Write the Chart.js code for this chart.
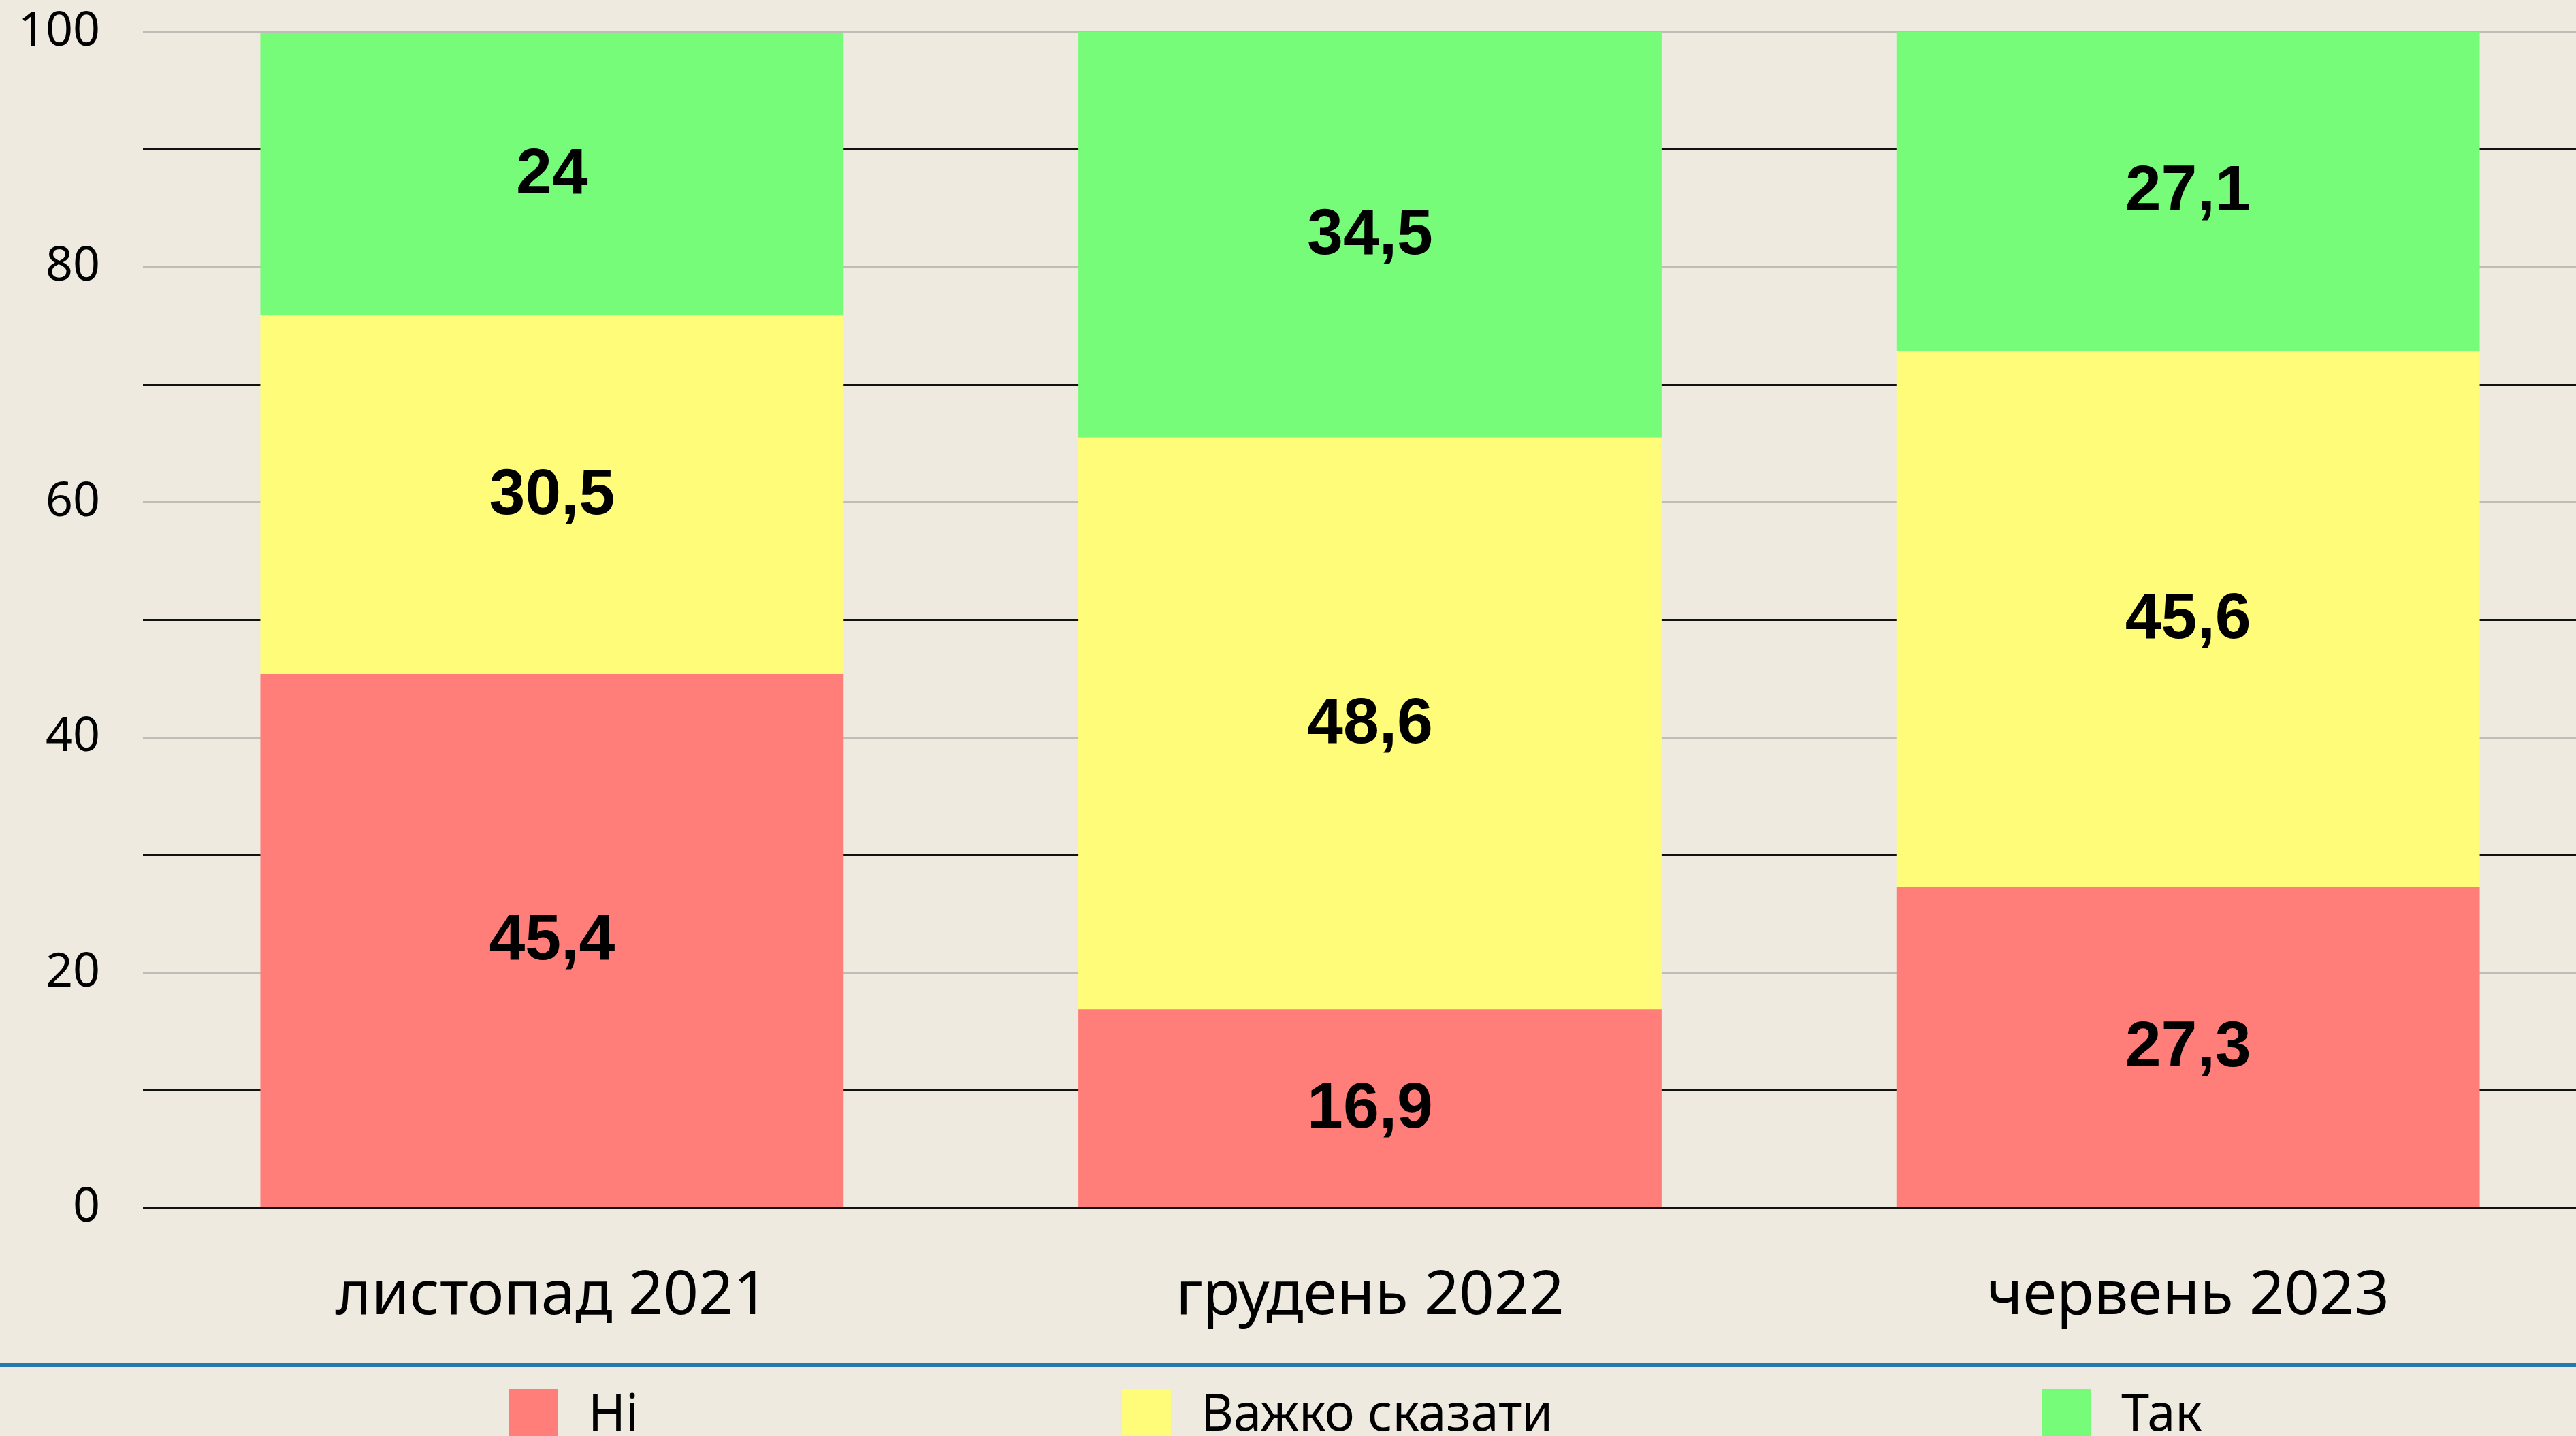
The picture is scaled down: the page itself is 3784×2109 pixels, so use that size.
<!DOCTYPE html>
<html>
<head>
<meta charset="utf-8">
<script src="https://cdn.jsdelivr.net/npm/chart.js@4.4.1/dist/chart.umd.min.js"></script>
<style>
  html, body { margin: 0; padding: 0; background: #EEEAE0; overflow: hidden; }
  #wrap { position: relative; width: 3815px; height: 2109px; }
</style>
</head>
<body>
<div id="wrap"><canvas id="myChart" width="3815" height="2109"></canvas></div>
<script>
// Kategorier og verdier (prosent)
const kategorier = ['листопад 2021', 'грудень 2022', 'червень 2023'];
const serier = ['Ні', 'Важко сказати', 'Так'];
const ni = [45.4, 16.9, 27.3];
const vazhko = [30.5, 48.6, 45.6];
const tak = [24, 34.5, 27.1];
const yTicks = [0, 20, 40, 60, 80, 100];

const farger = ['#FF7E79', '#FFFC79', '#77FC7A'];

// Tall med komma som desimaltegn
function formater(v) {
  return String(v).replace('.', ',');
}

// Verdier midt i hver stolpe
const verdiEtiketter = {
  id: 'verdiEtiketter',
  afterDatasetsDraw(chart) {
    const ctx = chart.ctx;
    ctx.save();
    ctx.font = 'bold 95px "Liberation Sans", Arial, sans-serif';
    ctx.fillStyle = '#000';
    ctx.textAlign = 'center';
    ctx.textBaseline = 'middle';
    chart.data.datasets.forEach((ds, i) => {
      chart.getDatasetMeta(i).data.forEach((bar, j) => {
        const p = bar.getProps(['x', 'y', 'base'], true);
        ctx.fillText(formater(ds.data[j]), p.x, (p.y + p.base) / 2 + 2);
      });
    });
    ctx.restore();
  }
};

// Blå linje og forklaring nederst
const forklaring = {
  id: 'forklaring',
  afterDraw(chart) {
    const ctx = chart.ctx;
    const h = chart.height;
    const startX = [748, 1648, 3000];
    ctx.save();
    ctx.fillStyle = '#2878B0';
    ctx.fillRect(0, h - 107, chart.width, 5);
    ctx.font = '74px "Noto Sans", sans-serif';
    ctx.textBaseline = 'alphabetic';
    ctx.textAlign = 'left';
    chart.data.datasets.forEach((ds, i) => {
      ctx.fillStyle = ds.backgroundColor;
      ctx.fillRect(startX[i], h - 69, 72, 80);
      ctx.fillStyle = '#000';
      ctx.fillText(ds.label, startX[i] + 116, h - 8);
    });
    ctx.restore();
  }
};

const ctx = document.getElementById('myChart').getContext('2d');
new Chart(ctx, {
  type: 'bar',
  data: {
    labels: kategorier,
    datasets: [
      { label: serier[0], data: ni, backgroundColor: farger[0] },
      { label: serier[1], data: vazhko, backgroundColor: farger[1] },
      { label: serier[2], data: tak, backgroundColor: farger[2] }
    ]
  },
  options: {
    responsive: false,
    animation: false,
    devicePixelRatio: 1,
    layout: {
      padding: { top: 47, bottom: 83, left: 0, right: 0 }
    },
    datasets: {
      bar: { categoryPercentage: 1, barPercentage: 0.713, borderWidth: 0 }
    },
    plugins: {
      legend: { display: false },
      tooltip: { enabled: false }
    },
    scales: {
      x: {
        stacked: true,
        grid: { display: false },
        border: { display: false },
        ticks: {
          color: '#000',
          padding: 68,
          font: { family: '"Noto Sans", sans-serif', size: 90 }
        }
      },
      y: {
        stacked: true,
        min: 0,
        max: 100,
        afterFit(scale) {
          scale.width = 210;
          scale.paddingTop = 0;
          scale.paddingBottom = 0;
        },
        afterBuildTicks(scale) {
          // hver tiende for rutenettet, etikett bare på hver tjuende
          scale.ticks = [];
          for (let v = 0; v <= 100; v += 10) scale.ticks.push({ value: v });
        },
        border: { display: false },
        grid: {
          drawTicks: false,
          lineWidth: 3,
          color(c) {
            const v = c.tick.value;
            return (v % 20 === 0 && v !== 0) ? '#BFBDB8' : '#111111';
          }
        },
        ticks: {
          color: '#000',
          padding: 63,
          font: { family: '"Noto Sans", sans-serif', size: 70 },
          callback(v) { return yTicks.includes(v) ? String(v) : ''; }
        }
      }
    }
  },
  plugins: [verdiEtiketter, forklaring]
});
</script>
</body>
</html>
